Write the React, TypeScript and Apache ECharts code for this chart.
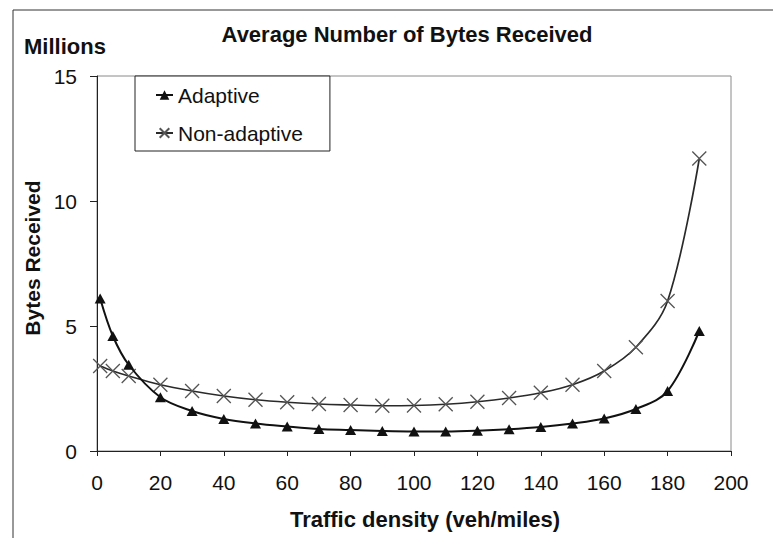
import React, { useEffect, useRef } from "react";
import * as echarts from "echarts";

// Traffic density (veh/miles) at which each average was measured
const density = [1, 5, 10, 20, 30, 40, 50, 60, 70, 80, 90, 100, 110, 120, 130, 140, 150, 160, 170, 180, 190];

// Average bytes received, in millions
const adaptive = [6.1, 4.6, 3.45, 2.15, 1.6, 1.28, 1.1, 0.98, 0.88, 0.84, 0.8, 0.78, 0.78, 0.81, 0.87, 0.96, 1.1, 1.3, 1.68, 2.4, 4.8];
const nonAdaptive = [3.4, 3.2, 3.0, 2.65, 2.4, 2.2, 2.05, 1.95, 1.88, 1.84, 1.81, 1.82, 1.87, 1.97, 2.12, 2.33, 2.65, 3.2, 4.15, 6.0, 11.7];

const seriesNames = ["Adaptive", "Non-adaptive"];

const FONT = "'Liberation Sans', Arial, Helvetica, sans-serif";
const INK = "#111";

const pairs = (ys: number[]) => density.map((x, i) => [x, ys[i]]);

export default function App() {
  const ref = useRef<HTMLDivElement>(null);

  useEffect(() => {
    if (!ref.current) return;
    const chart = echarts.init(ref.current, undefined, { renderer: "svg" });
    chart.setOption({
      animation: false,
      backgroundColor: "#fff",
      textStyle: { fontFamily: FONT },
      grid: {
        left: 97,
        right: 42,
        top: 76,
        bottom: 87,
        show: true,
        borderColor: "#8a8a8a",
        borderWidth: 1,
      },
      legend: {
        orient: "vertical",
        left: 135,
        top: 76,
        padding: [8, 27, 7, 20],
        itemGap: 16,
        itemWidth: 17,
        itemHeight: 12,
        borderColor: "#222",
        borderWidth: 1,
        backgroundColor: "#fff",
        data: seriesNames,
        textStyle: { fontFamily: FONT, fontSize: 21, color: INK, lineHeight: 22 },
      },
      xAxis: {
        type: "value",
        min: 0,
        max: 200,
        interval: 20,
        axisLine: { lineStyle: { color: "#222", width: 1 } },
        axisTick: { show: true, inside: false, length: 5, lineStyle: { color: "#222" } },
        axisLabel: { fontFamily: FONT, fontSize: 21, color: INK, margin: 21 },
        splitLine: { show: false },
      },
      yAxis: {
        type: "value",
        min: 0,
        max: 15,
        interval: 5,
        axisLine: { show: true, lineStyle: { color: "#222", width: 1 } },
        axisTick: { show: true, inside: false, length: 7, lineStyle: { color: "#222" } },
        axisLabel: { fontFamily: FONT, fontSize: 21, color: INK, margin: 20 },
        splitLine: { show: false },
      },
      series: [
        {
          name: seriesNames[0],
          type: "line",
          data: pairs(adaptive),
          smooth: 0.35,
          symbol: "triangle",
          symbolSize: [11, 10],
          lineStyle: { color: "#111", width: 2 },
          itemStyle: { color: "#111" },
          z: 3,
        },
        {
          name: seriesNames[1],
          type: "line",
          data: pairs(nonAdaptive),
          smooth: 0.35,
          symbol: "path://M0,0L10,10M10,0L0,10",
          symbolSize: 14,
          lineStyle: { color: "#2a2a2a", width: 1.7 },
          itemStyle: { color: "rgba(0,0,0,0)", borderColor: "#555", borderWidth: 1.3 },
          z: 2,
        },
      ],
      graphic: [
        // outer frame (top and left edges)
        { type: "line", shape: { x1: 13, y1: 10, x2: 773, y2: 10 }, style: { stroke: "#333", lineWidth: 1 } },
        { type: "line", shape: { x1: 13, y1: 10, x2: 13, y2: 538 }, style: { stroke: "#333", lineWidth: 1 } },
        {
          type: "text",
          x: 407,
          y: 34,
          style: {
            text: "Average Number of Bytes Received",
            fontFamily: FONT,
            fontSize: 22,
            fontWeight: "bold",
            fill: INK,
            textAlign: "center",
            textVerticalAlign: "middle",
          },
        },
        {
          type: "text",
          x: 24,
          y: 46,
          style: {
            text: "Millions",
            fontFamily: FONT,
            fontSize: 22,
            fontWeight: "bold",
            fill: INK,
            textAlign: "left",
            textVerticalAlign: "middle",
          },
        },
        {
          type: "text",
          x: 32,
          y: 258,
          rotation: Math.PI / 2,
          style: {
            text: "Bytes Received",
            fontFamily: FONT,
            fontSize: 21,
            fontWeight: "bold",
            fill: INK,
            textAlign: "center",
            textVerticalAlign: "middle",
          },
        },
        {
          type: "text",
          x: 425,
          y: 519,
          style: {
            text: "Traffic density (veh/miles)",
            fontFamily: FONT,
            fontSize: 22,
            fontWeight: "bold",
            fill: INK,
            textAlign: "center",
            textVerticalAlign: "middle",
          },
        },
      ],
    });
    return () => chart.dispose();
  }, []);

  return (
    <div
      ref={ref}
      style={{ position: "fixed", left: 0, top: 0, width: 773, height: 538 }}
    />
  );
}
